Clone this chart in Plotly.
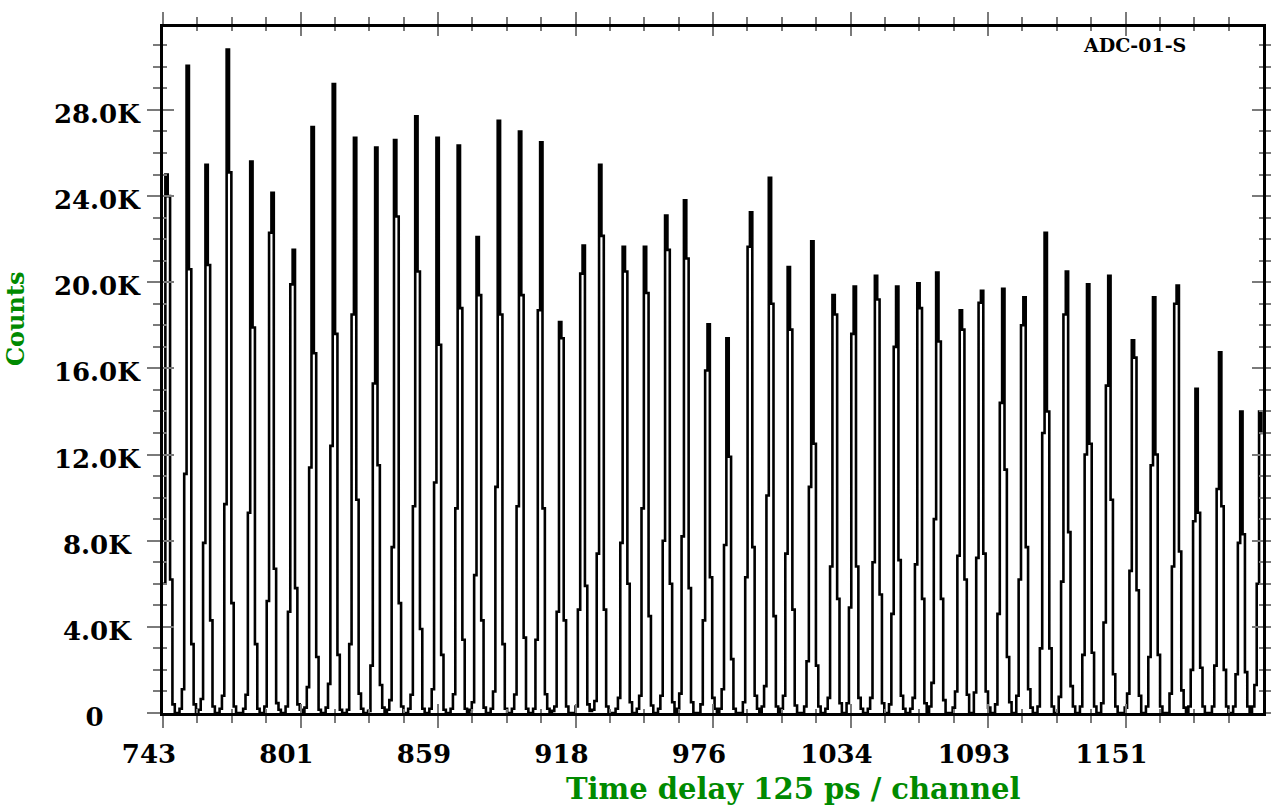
import plotly.graph_objects as go

# ---------------- data ----------------
first_channel = 743
last_channel = 1209
x_max = 1209.667

# channel of the top bin of each peak
peak_top_channel = [744, 753, 761, 770, 780, 789, 798, 806, 815, 824, 833, 841, 850,
                    859, 868, 876, 885, 894, 903, 911, 921, 928, 938, 947, 956, 964,
                    974, 982, 992, 1000, 1008, 1018, 1027, 1036, 1045, 1054, 1063,
                    1071, 1081, 1090, 1099, 1108, 1117, 1126, 1135, 1144, 1154, 1163,
                    1173, 1181, 1191, 1200, 1208]

# counts (thousands) in the channels top-3 ... top+3 of each peak
peak_counts_k = [
    [0.2, 0.45, 6.0, 25.0, 24.0, 6.2, 0.4],
    [0.2, 1.1, 11.1, 30.05, 20.6, 3.2, 0.4],
    [0.15, 0.65, 7.9, 25.45, 20.8, 4.3, 0.3],
    [0.2, 0.8, 9.7, 30.8, 25.1, 5.1, 0.3],
    [0.2, 0.85, 9.3, 25.6, 17.9, 3.2, 0.2],
    [0.3, 5.2, 22.3, 24.15, 6.7, 0.46, 0.15],
    [0.3, 4.7, 19.9, 21.5, 5.8, 0.4, 0.15],
    [0.25, 1.2, 11.4, 27.2, 16.7, 2.6, 0.15],
    [0.25, 1.35, 12.4, 29.2, 17.6, 2.7, 0.15],
    [0.15, 3.2, 18.5, 26.7, 9.9, 0.9, 0.2],
    [0.1, 2.2, 15.3, 26.25, 11.5, 1.3, 0.25],
    [0.15, 0.6, 7.7, 26.6, 23.05, 5.1, 0.3],
    [0.2, 0.85, 9.6, 27.7, 20.5, 3.9, 0.2],
    [0.2, 1.1, 10.7, 26.7, 17.1, 2.7, 0.15],
    [0.2, 0.87, 9.5, 26.35, 18.8, 3.4, 0.2],
    [0.15, 0.5, 6.4, 22.1, 19.4, 4.3, 0.25],
    [0.2, 1.0, 10.5, 27.5, 18.5, 3.2, 0.2],
    [0.2, 0.86, 9.6, 27.0, 19.4, 3.5, 0.2],
    [0.2, 3.4, 18.7, 26.5, 9.5, 0.87, 0.2],
    [0.1, 0.3, 4.7, 18.15, 17.4, 4.3, 0.3],
    [0.3, 4.8, 20.4, 21.7, 5.9, 0.4, 0.1],
    [0.15, 0.56, 7.4, 25.45, 22.15, 4.8, 0.3],
    [0.2, 0.7, 7.9, 21.65, 20.5, 6.0, 0.5],
    [0.2, 0.8, 9.5, 21.65, 19.5, 4.5, 0.35],
    [0.2, 0.8, 8.0, 23.1, 21.5, 6.0, 0.5],
    [0.2, 0.9, 8.2, 23.8, 21.1, 5.8, 0.5],
    [0.4, 4.3, 15.9, 18.05, 6.3, 0.7, 0.2],
    [0.2, 1.1, 7.8, 17.4, 11.9, 2.5, 0.2],
    [0.5, 6.3, 21.65, 23.25, 7.7, 0.8, 0.2],
    [0.3, 1.25, 10.1, 24.85, 19.0, 4.5, 0.3],
    [0.2, 0.8, 7.4, 20.7, 17.8, 4.8, 0.35],
    [0.3, 2.4, 10.5, 21.9, 12.5, 2.2, 0.3],
    [0.2, 0.7, 6.8, 19.4, 18.5, 5.3, 0.45],
    [0.45, 4.9, 17.6, 19.8, 6.8, 0.7, 0.2],
    [0.2, 0.7, 7.0, 20.3, 19.2, 5.5, 0.45],
    [0.4, 4.6, 17.0, 19.8, 7.1, 0.8, 0.2],
    [0.2, 0.7, 6.9, 19.95, 18.8, 5.3, 0.45],
    [0.3, 1.4, 9.0, 20.45, 17.25, 5.3, 0.6],
    [0.25, 1.0, 7.3, 18.7, 17.8, 6.2, 0.85],
    [0.95, 7.2, 19.05, 19.6, 7.4, 1.0, 0.25],
    [0.4, 4.6, 14.4, 19.7, 11.3, 2.6, 0.5],
    [0.8, 6.2, 18.0, 19.3, 7.7, 1.1, 0.25],
    [0.3, 3.0, 13.0, 22.3, 14.0, 3.0, 0.3],
    [0.75, 6.1, 18.5, 20.5, 8.4, 1.25, 0.3],
    [0.3, 2.7, 12.0, 19.9, 12.5, 2.8, 0.3],
    [0.45, 4.2, 15.2, 20.3, 9.9, 1.8, 0.3],
    [0.25, 0.9, 6.6, 17.3, 16.5, 5.7, 0.8],
    [0.3, 2.6, 11.5, 19.3, 12.0, 2.7, 0.3],
    [0.9, 6.8, 19.0, 19.85, 7.5, 1.05, 0.25],
    [0.3, 2.0, 8.9, 15.05, 9.3, 2.1, 0.3],
    [0.3, 2.2, 10.4, 16.75, 9.6, 2.0, 0.3],
    [0.3, 1.8, 7.9, 14.0, 8.3, 1.9, 0.3],
    [0.3, 1.3, 6.0, 14.0, 13.0, 5.0, 0.5],
]

x_tick_values = [743, 801.333, 859.667, 918, 976.333, 1034.667, 1093, 1151.333]
x_tick_labels = ["743", "801", "859", "918", "976", "1034", "1093", "1151"]
y_tick_values = [0, 4, 8, 12, 16, 20, 24, 28]
y_tick_labels = ["0", "4.0K", "8.0K", "12.0K", "16.0K", "20.0K", "24.0K", "28.0K"]

# ---------------- build the channel histogram ----------------
channels = list(range(first_channel, last_channel + 1))
counts = {c: 0.0 for c in channels}
for top, prof in zip(peak_top_channel, peak_counts_k):
    for i, v in enumerate(prof):
        c = top - 3 + i
        if c in counts:
            counts[c] += v
xs = channels + [last_channel + 1]
ys = [counts[c] for c in channels] + [counts[last_channel]]

x_minor = [743 + i * 58.3333 / 4 for i in range(33) if i % 4 != 0]
y_minor = [v for v in range(0, 32) if v % 4 != 0]

# the reference centres its y labels in a fixed-width column: pad shorter ones
NBSP = "\u00a0"
y_tick_text = [t + NBSP * {1: 4, 4: 1}.get(len(t), 0) for t in y_tick_labels]

TICK = "#7a7a7a"
FONT = "DejaVu Serif"
GREEN = "#008a00"

fig = go.Figure()
fig.add_trace(go.Scatter(x=xs, y=ys, mode="lines", line=dict(shape="hv", color="black", width=2.6),
                         hoverinfo="skip", showlegend=False))
fig.add_trace(go.Scatter(x=[None], y=[None], xaxis="x2", yaxis="y2", showlegend=False, hoverinfo="skip"))

fig.update_layout(
    width=1271, height=810,
    margin=dict(l=163, r=8, t=27, b=97, autoexpand=False),
    paper_bgcolor="white", plot_bgcolor="white",
    xaxis=dict(range=[743, x_max], showgrid=False, zeroline=False, automargin=False,
               showline=True, linecolor="black", linewidth=3, mirror="allticks",
               ticks="outside", ticklen=12, tickwidth=2, tickcolor=TICK,
               tickmode="array", tickvals=x_tick_values, ticktext=x_tick_labels,
               minor=dict(ticks="outside", ticklen=7, tickwidth=2, tickcolor=TICK,
                          tickmode="array", tickvals=x_minor, showgrid=False),
               tickfont=dict(family=FONT, size=26, color="black", weight="bold"),
               ticklabelshift=-14, ticklabelstandoff=4),
    yaxis=dict(range=[0, 31.85], showgrid=False, zeroline=False, automargin=False,
               showline=True, linecolor="black", linewidth=3, mirror="allticks",
               ticks="outside", ticklen=13, tickwidth=2, tickcolor=TICK,
               tickmode="array", tickvals=y_tick_values, ticktext=y_tick_text,
               minor=dict(ticks="outside", ticklen=7, tickwidth=2, tickcolor=TICK,
                          tickmode="array", tickvals=y_minor, showgrid=False),
               tickfont=dict(family=FONT, size=26, color="black", weight="bold"),
               ticklabelshift=4, ticklabelstandoff=2),
    xaxis2=dict(range=[743, x_max], overlaying="x", anchor="y", side="bottom", automargin=False,
                showgrid=False, zeroline=False, showline=False, mirror="allticks",
                ticks="inside", ticklen=9, tickwidth=2, tickcolor=TICK,
                tickmode="array", tickvals=x_tick_values, showticklabels=False,
                minor=dict(ticks="inside", ticklen=4, tickwidth=2, tickcolor=TICK,
                           tickmode="array", tickvals=x_minor, showgrid=False)),
    yaxis2=dict(range=[0, 31.85], overlaying="y", anchor="x", side="left", automargin=False,
                showgrid=False, zeroline=False, showline=False, mirror="allticks",
                ticks="inside", ticklen=11, tickwidth=2, tickcolor=TICK,
                tickmode="array", tickvals=y_tick_values, showticklabels=False,
                minor=dict(ticks="inside", ticklen=4, tickwidth=2, tickcolor=TICK,
                           tickmode="array", tickvals=y_minor, showgrid=False)),
    annotations=[
        dict(text="Time delay 125 ps / channel", xref="paper", yref="paper",
             x=0.5736, y=-0.1108, xanchor="center", yanchor="middle", showarrow=False,
             font=dict(family=FONT, size=29, color=GREEN, weight="bold")),
        dict(text="Counts", xref="paper", yref="paper", textangle=-90,
             x=-0.1345, y=0.5743, xanchor="center", yanchor="middle", showarrow=False,
             font=dict(family=FONT, size=24, color=GREEN, weight="bold")),
        dict(text="ADC-01-S", xref="paper", yref="paper",
             x=0.8836, y=0.9738, xanchor="center", yanchor="middle", showarrow=False,
             font=dict(family=FONT, size=19, color="black", weight="bold")),
    ],
)

fig.write_html("out.html")
